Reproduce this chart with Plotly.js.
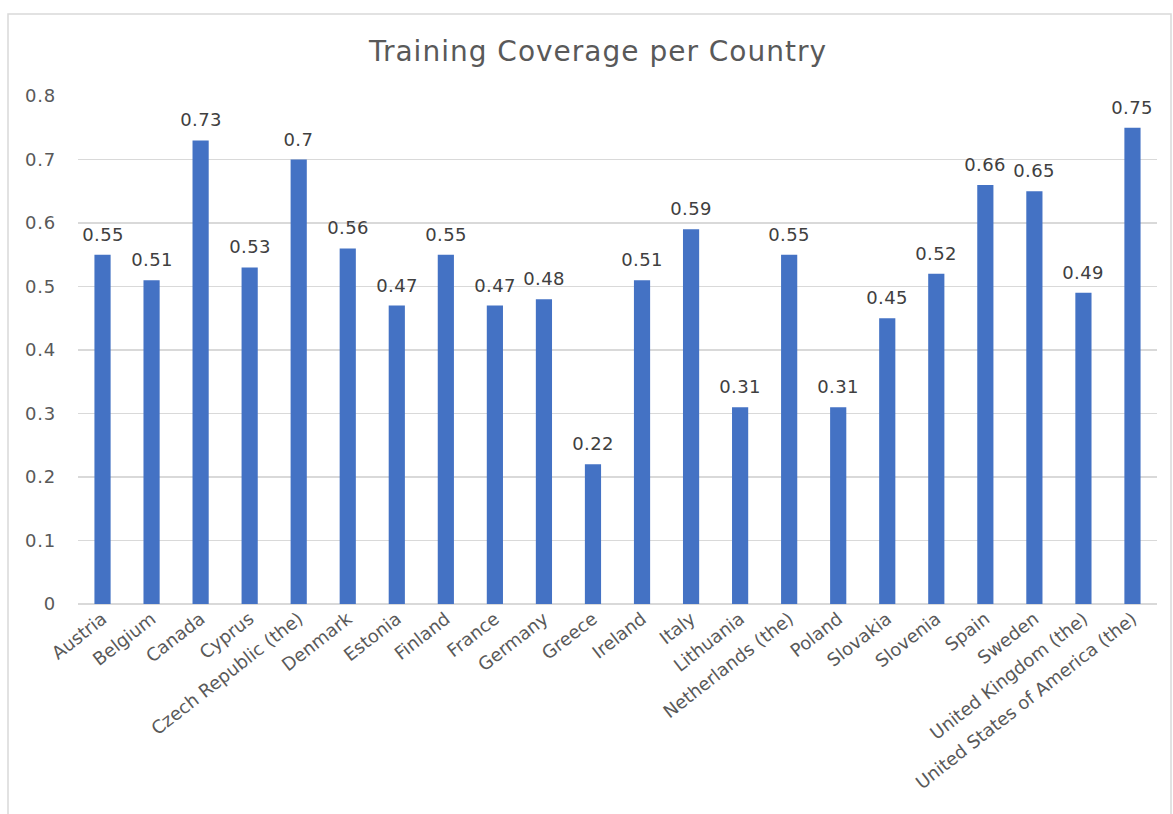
<!DOCTYPE html>
<html>
<head>
<meta charset="utf-8">
<script src="https://cdn.plot.ly/plotly-3.0.1.min.js"></script>
<style>
html,body{margin:0;padding:0;background:#fff;}
#chart{width:1173px;height:814px;}
#chart .gtitle{letter-spacing:1px;}
#chart .ytick text{letter-spacing:0.8px;}
#chart .annotation text{letter-spacing:0.4px;}
</style>
</head>
<body>
<div id="chart"></div>
<script>
const countries = ["Austria","Belgium","Canada","Cyprus","Czech Republic (the)","Denmark","Estonia","Finland","France","Germany","Greece","Ireland","Italy","Lithuania","Netherlands (the)","Poland","Slovakia","Slovenia","Spain","Sweden","United Kingdom (the)","United States of America (the)"];
const coverage = [0.55,0.51,0.73,0.53,0.7,0.56,0.47,0.55,0.47,0.48,0.22,0.51,0.59,0.31,0.55,0.31,0.45,0.52,0.66,0.65,0.49,0.75];
const yTicks = [0,0.1,0.2,0.3,0.4,0.5,0.6,0.7,0.8];

const FONT = '"DejaVu Sans", "Open Sans", sans-serif';
const L = 78, R = 16, T = 96, B = 210;
const pw = 1173 - L - R, ph = 814 - T - B;

const trace = {
  type: 'bar',
  x: countries,
  y: coverage,
  marker: {color: '#4472C4'},
  hoverinfo: 'x+y'
};

const annotations = countries.map((c, i) => ({
  x: c, y: coverage[i], xref: 'x', yref: 'y',
  text: String(coverage[i]),
  showarrow: false, yanchor: 'bottom', yshift: 8,
  font: {family: FONT, size: 18, color: '#404040'}
}));

const layout = {
  width: 1173, height: 814,
  margin: {l: L, r: R, t: T, b: B, pad: 0},
  paper_bgcolor: '#ffffff', plot_bgcolor: '#ffffff',
  bargap: 0.67,
  showlegend: false,
  title: {
    text: 'Training Coverage per Country',
    font: {family: FONT, size: 28, color: '#595959'},
    x: 598 / 1173, xanchor: 'center', xref: 'container',
    y: 1 - 51/814, yanchor: 'middle', yref: 'container'
  },
  xaxis: {
    type: 'category',
    tickangle: -38,
    tickfont: {family: FONT, size: 18, color: '#595959'},
    showgrid: false, showline: false, ticks: '', zeroline: false,
    automargin: false
  },
  yaxis: {
    range: [0, 0.8],
    tickvals: yTicks,
    ticktext: yTicks.map(v => String(v)),
    tickfont: {family: FONT, size: 18, color: '#595959'},
    showgrid: true, gridcolor: '#d9d9d9', gridwidth: 1.3,
    zeroline: true, zerolinecolor: '#d9d9d9', zerolinewidth: 1.5,
    showline: false, ticks: '',
    ticklabelstandoff: 21,
    automargin: false
  },
  annotations: annotations,
  shapes: [{
    type: 'rect', xref: 'paper', yref: 'paper',
    x0: (8 - L) / pw, x1: (1171 - L) / pw,
    y0: (T + ph - 830) / ph, y1: (T + ph - 14) / ph,
    line: {color: '#d9d9d9', width: 1.5},
    fillcolor: 'rgba(0,0,0,0)', layer: 'below'
  }]
};

Plotly.newPlot('chart', [trace], layout, {displayModeBar: false, staticPlot: true});
</script>
</body>
</html>
